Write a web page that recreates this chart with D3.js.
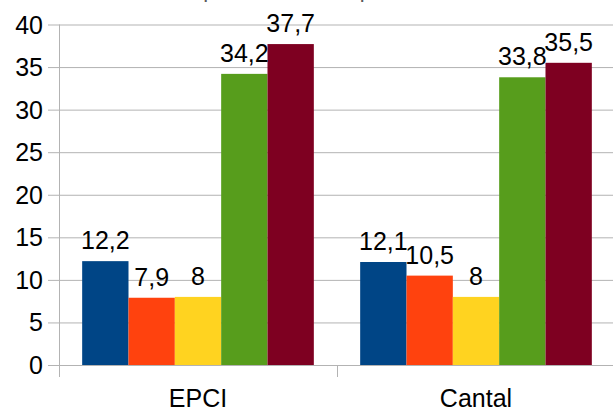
<!DOCTYPE html>
<html>
<head>
<meta charset="utf-8">
<script src="https://cdn.jsdelivr.net/npm/d3@7"></script>
<style>
  html, body { margin: 0; padding: 0; background: #fff; }
  svg { display: block; font-family: "Liberation Sans", Arial, sans-serif; }
</style>
</head>
<body>
<svg id="chart" width="613" height="410"></svg>
<script>
// Chart data
const categories = ["EPCI", "Cantal"];
const seriesNames = ["s1", "s2", "s3", "s4", "s5"];
const seriesColors = ["#004586", "#ff420e", "#ffd320", "#579d1c", "#7e0021"];
const valuesEPCI = [12.2, 7.9, 8, 34.2, 37.7];
const valuesCantal = [12.1, 10.5, 8, 33.8, 35.5];
const yTicks = [0, 5, 10, 15, 20, 25, 30, 35, 40];
const titleText = "Répartition des emplois";

const rows = [valuesEPCI, valuesCantal];

const svg = d3.select("#chart");
const W = 613, H = 410;
const plot = { left: 59, right: 615, top: 24.5, bottom: 365 };

const x0 = d3.scaleBand()
  .domain(categories)
  .range([plot.left, plot.right])
  .paddingInner(0)
  .paddingOuter(0);

// Bars in a group fill the band, leaving half a bar of space on each side
const x1 = d3.scaleBand()
  .domain(seriesNames)
  .range([0, x0.bandwidth()])
  .paddingOuter(0.5)
  .paddingInner(0);

const y = d3.scaleLinear().domain([0, 40]).range([plot.bottom, plot.top]);

const fmt = v => String(v).replace(".", ",");

// Title (sits mostly above the visible area)
svg.append("text")
  .attr("x", 290)
  .attr("y", -3)
  .attr("text-anchor", "middle")
  .attr("font-size", 22)
  .attr("fill", "#595959")
  .text(titleText);

// Horizontal grid lines with left tick stubs
svg.append("g")
  .selectAll("line")
  .data(yTicks)
  .join("line")
  .attr("x1", plot.left - 11)
  .attr("x2", W)
  .attr("y1", d => y(d) + 0.5)
  .attr("y2", d => y(d) + 0.5)
  .attr("stroke", "#b3b3b3")
  .attr("stroke-width", 1);

// Y axis labels
svg.append("g")
  .selectAll("text")
  .data(yTicks)
  .join("text")
  .attr("x", plot.left - 16)
  .attr("y", d => y(d))
  .attr("dy", "0.36em")
  .attr("text-anchor", "end")
  .attr("font-size", 25)
  .attr("fill", "#000")
  .text(d => d);

// Vertical axis line
svg.append("line")
  .attr("x1", plot.left + 0.5)
  .attr("x2", plot.left + 0.5)
  .attr("y1", plot.top)
  .attr("y2", plot.bottom + 12)
  .attr("stroke", "#b3b3b3");

// Category separator ticks on the x axis
const catEdges = categories.map(c => x0(c)).concat([x0(categories[categories.length - 1]) + x0.bandwidth()]);
svg.append("g")
  .selectAll("line")
  .data(catEdges)
  .join("line")
  .attr("x1", d => Math.round(d) + 0.5)
  .attr("x2", d => Math.round(d) + 0.5)
  .attr("y1", plot.bottom)
  .attr("y2", plot.bottom + 12)
  .attr("stroke", "#b3b3b3");

// Bars and value labels
const groups = svg.append("g")
  .selectAll("g")
  .data(categories)
  .join("g")
  .attr("transform", c => `translate(${x0(c)},0)`);

groups.selectAll("rect")
  .data((c, i) => rows[i].map((v, j) => ({ key: seriesNames[j], v, color: seriesColors[j] })))
  .join("rect")
  .attr("x", d => x1(d.key))
  .attr("width", x1.bandwidth())
  .attr("y", d => y(d.v))
  .attr("height", d => y(0) - y(d.v))
  .attr("fill", d => d.color);

groups.selectAll("text")
  .data((c, i) => rows[i].map((v, j) => ({ key: seriesNames[j], v })))
  .join("text")
  .attr("x", d => x1(d.key) + x1.bandwidth() / 2)
  .attr("y", d => y(d.v) - 12)
  .attr("text-anchor", "middle")
  .attr("font-size", 25)
  .attr("fill", "#000")
  .text(d => fmt(d.v));

// Category labels
svg.append("g")
  .selectAll("text")
  .data(categories)
  .join("text")
  .attr("x", c => x0(c) + x0.bandwidth() / 2)
  .attr("y", 407)
  .attr("text-anchor", "middle")
  .attr("font-size", 25)
  .attr("fill", "#000")
  .text(c => c);
</script>
</body>
</html>
